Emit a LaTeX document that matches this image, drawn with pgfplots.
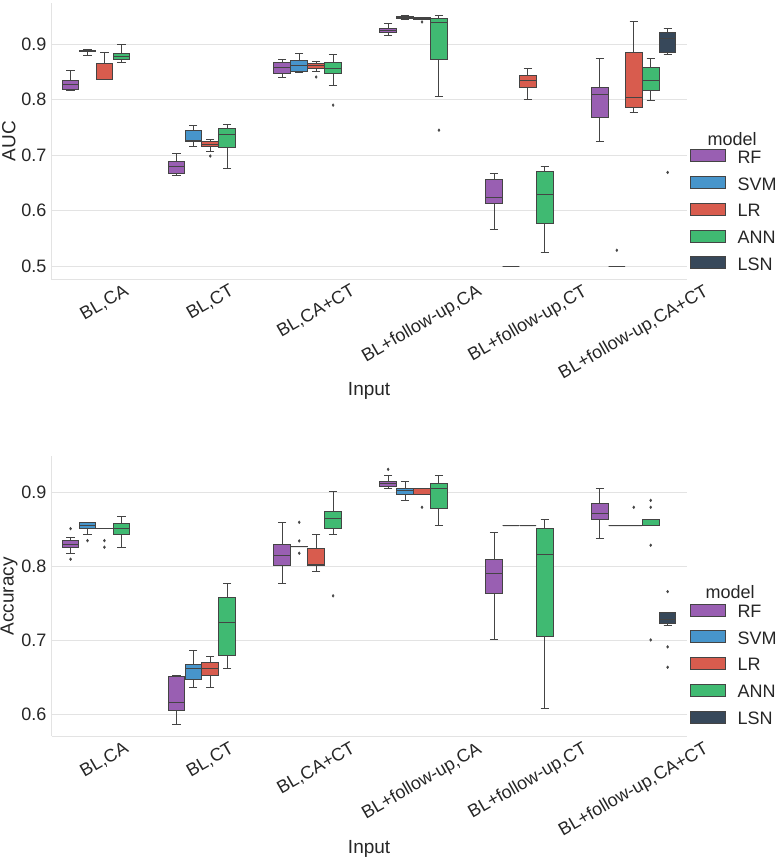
\documentclass[border=0pt]{standalone}
\usepackage{fontspec}
\setmainfont{Liberation Sans}
\usepackage{graphicx}
\usepackage{pgfplots}
\usepgfplotslibrary{statistics}
\pgfplotsset{compat=1.18}

\definecolor{rfc}{HTML}{995FB2}
\definecolor{svmc}{HTML}{4795CB}
\definecolor{lrc}{HTML}{D85C4E}
\definecolor{annc}{HTML}{40BA72}
\definecolor{lsnc}{HTML}{37485A}
\definecolor{edgec}{HTML}{444444}
\definecolor{gridc}{HTML}{E3E3E3}
\definecolor{txtc}{HTML}{262626}

\newcommand{\ticksize}{\fontsize{18}{21}\selectfont}
\newcommand{\labsize}{\fontsize{19}{22}\selectfont}

% one box: style, position, lower whisker, q1, median, q3, upper whisker, outliers
\newcommand{\bx}[8]{\addplot[#1, forget plot, boxplot prepared={draw direction=y, draw position=#2,
  lower whisker=#3, lower quartile=#4, median=#5, upper quartile=#6, upper whisker=#7,
  box extend=0.157, whisker extend=0.078}]
  table[row sep=\\, y index=0] {v\\ #8};}

\pgfplotsset{
  rf/.style={color=edgec, fill=rfc, draw=edgec, line width=1pt,
    mark=diamond*, mark size=1.4pt, mark options={fill=edgec, draw=edgec, line width=0.4pt},
    boxplot/every box/.append style={draw=edgec, line width=1pt},
    boxplot/every whisker/.append style={draw=edgec, line width=1pt},
    boxplot/every median/.append style={draw=edgec, line width=1pt}},
  svm/.style={rf, fill=svmc},
  lr/.style={rf, fill=lrc},
  ann/.style={rf, fill=annc},
  lsn/.style={rf, fill=lsnc},
  flat/.style={rf, fill=edgec},
  panel/.style={
    scale only axis, width=635.2pt, clip=false,
    xmin=-0.5, xmax=5.5,
    xtick={0,1,2,3,4,5},
    xticklabels={{\rotatebox{30}{BL,CA}},{\rotatebox{30}{BL,CT}},{\rotatebox{30}{BL,CA+CT}},
      {\rotatebox{30}{BL+follow-up,CA}},{\rotatebox{30}{BL+follow-up,CT}},{\rotatebox{30}{BL+follow-up,CA+CT}}},
    xticklabel style={anchor=north, inner sep=0pt, yshift=-4pt, font=\ticksize, text=txtc},
    yticklabel style={anchor=east, inner sep=0pt, xshift=-5pt, font=\ticksize, text=txtc,
      /pgf/number format/fixed, /pgf/number format/fixed zerofill,
      /pgf/number format/precision=1, /pgf/number format/assume math mode=true},
    major tick length=0pt,
    axis lines*=left,
    axis line style={draw=gridc, line width=0.9pt, -},
    ymajorgrids, grid style={gridc, line width=0.9pt},
    xlabel={Input},
    every axis x label/.style={at={(axis description cs:0.5,0)}, anchor=center, yshift=-112pt, font=\labsize, text=txtc},
    every axis y label/.style={at={(axis description cs:-0.067,0.5)}, rotate=90, anchor=center, font=\labsize, text=txtc},
    legend style={draw=none, fill=none, anchor=south west, font=\ticksize, text=txtc,
      legend cell align=left, row sep=8.8pt, /tikz/every odd column/.style={column sep=10pt}},
    legend image code/.code={\draw[#1, line width=0.6pt] (0pt,-4pt) rectangle (35pt,8pt);},
  }
}

\begin{document}
\begin{tikzpicture}
\useasboundingbox (0,0) rectangle (777pt,862pt);

% ---------- AUC ----------
\begin{axis}[panel, at={(51.5pt,582.7pt)}, anchor=south west,
  height=276.3pt, ymin=0.4768, ymax=0.9737, ytick={0.5,0.6,0.7,0.8,0.9},
  ylabel={AUC},
  legend style={at={(axis description cs:1.0,0.012)}}]
\bx{rf}{-0.32}{0.8167}{0.8185}{0.8275}{0.835}{0.853}{}
\bx{svm}{-0.16}{0.880}{0.886}{0.888}{0.889}{0.8905}{}
\bx{lr}{0}{0.837}{0.837}{0.837}{0.865}{0.885}{}
\bx{ann}{0.16}{0.866}{0.8725}{0.877}{0.883}{0.8995}{}
\bx{rf}{0.68}{0.664}{0.6675}{0.679}{0.689}{0.703}{}
\bx{svm}{0.84}{0.715}{0.724}{0.726}{0.744}{0.753}{}
\bx{lr}{1}{0.706}{0.7165}{0.720}{0.7245}{0.729}{0.6985\\}
\bx{ann}{1.16}{0.676}{0.713}{0.737}{0.748}{0.7556}{}
\bx{rf}{1.68}{0.840}{0.847}{0.858}{0.867}{0.8725}{}
\bx{svm}{1.84}{0.848}{0.851}{0.8605}{0.870}{0.883}{}
\bx{lr}{2}{0.8496}{0.8556}{0.861}{0.8653}{0.868}{0.8406\\}
\bx{ann}{2.16}{0.8257}{0.847}{0.856}{0.866}{0.8815}{0.790\\}
\bx{rf}{2.68}{0.9157}{0.9198}{0.924}{0.928}{0.9365}{}
\bx{svm}{2.84}{0.944}{0.945}{0.948}{0.9495}{0.9505}{}
\bx{lr}{3}{0.9437}{0.9437}{0.946}{0.9473}{0.9473}{0.9396\\}
\bx{ann}{3.16}{0.806}{0.8712}{0.939}{0.9455}{0.952}{0.745\\}
\bx{rf}{3.68}{0.5655}{0.6135}{0.6243}{0.6567}{0.6674}{}
\bx{flat}{3.84}{0.5}{0.5}{0.5}{0.5}{0.5}{}
\bx{lr}{4}{0.7993}{0.8214}{0.834}{0.8437}{0.855}{}
\bx{ann}{4.16}{0.5254}{0.578}{0.629}{0.671}{0.679}{}
\bx{rf}{4.68}{0.725}{0.7669}{0.8088}{0.8214}{0.8743}{}
\bx{flat}{4.84}{0.5}{0.5}{0.5}{0.5}{0.5}{0.529\\}
\bx{lr}{5}{0.7759}{0.7854}{0.8041}{0.885}{0.9408}{}
\bx{ann}{5.16}{0.7975}{0.816}{0.834}{0.8574}{0.8736}{}
\bx{lsn}{5.32}{0.8802}{0.8844}{0.909}{0.9198}{0.9276}{0.669\\}
\addlegendimage{fill=rfc, draw=edgec}\addlegendentry{RF}
\addlegendimage{fill=svmc, draw=edgec}\addlegendentry{SVM}
\addlegendimage{fill=lrc, draw=edgec}\addlegendentry{LR}
\addlegendimage{fill=annc, draw=edgec}\addlegendentry{ANN}
\addlegendimage{fill=lsnc, draw=edgec}\addlegendentry{LSN}
\node[font=\ticksize, text=txtc] at (axis description cs:1.0717,0.508) {model};
\end{axis}

% ---------- Accuracy ----------
\begin{axis}[panel, at={(51.5pt,125.5pt)}, anchor=south west,
  height=280.5pt, ymin=0.5699, ymax=0.949, ytick={0.6,0.7,0.8,0.9},
  ylabel={Accuracy},
  legend style={at={(axis description cs:1.0,0.023)}}]
\bx{rf}{-0.32}{0.8176}{0.8257}{0.830}{0.8346}{0.8387}{0.8508\\ 0.8095\\}
\bx{svm}{-0.16}{0.8427}{0.8514}{0.8554}{0.859}{0.859}{0.8346\\}
\bx{flat}{0}{0.8514}{0.8514}{0.8514}{0.8514}{0.8514}{0.8346\\ 0.8257\\}
\bx{ann}{0.16}{0.826}{0.8423}{0.8514}{0.8572}{0.867}{}
\bx{rf}{0.68}{0.586}{0.6054}{0.6157}{0.6508}{0.6527}{}
\bx{svm}{0.84}{0.6365}{0.6468}{0.6622}{0.6676}{0.6865}{}
\bx{lr}{1}{0.6365}{0.6527}{0.6616}{0.6693}{0.6774}{}
\bx{ann}{1.16}{0.6612}{0.6797}{0.7234}{0.7581}{0.777}{}
\bx{rf}{1.68}{0.7765}{0.8014}{0.8139}{0.830}{0.859}{}
\bx{flat}{1.84}{0.8265}{0.8265}{0.8265}{0.8265}{0.8265}{0.8594\\ 0.8342\\ 0.8176\\}
\bx{lr}{2}{0.7932}{0.8014}{0.8030}{0.8243}{0.8427}{}
\bx{ann}{2.16}{0.8427}{0.8514}{0.864}{0.8738}{0.9008}{0.760\\}
\bx{rf}{2.68}{0.9054}{0.9081}{0.9112}{0.9143}{0.923}{0.931\\}
\bx{svm}{2.84}{0.889}{0.8973}{0.9027}{0.9054}{0.9143}{}
\bx{lr}{3}{0.8973}{0.8973}{0.9054}{0.9054}{0.9054}{0.8797\\}
\bx{ann}{3.16}{0.8545}{0.8778}{0.9054}{0.9122}{0.923}{}
\bx{rf}{3.68}{0.7004}{0.7626}{0.7905}{0.8095}{0.846}{}
\bx{flat}{3.84}{0.8545}{0.8545}{0.8545}{0.8545}{0.8545}{}
\bx{flat}{4}{0.8545}{0.8545}{0.8545}{0.8545}{0.8545}{}
\bx{ann}{4.16}{0.6072}{0.7049}{0.8162}{0.8504}{0.863}{}
\bx{rf}{4.68}{0.8378}{0.863}{0.8716}{0.8842}{0.9054}{}
\bx{flat}{4.84}{0.8545}{0.8545}{0.8545}{0.8545}{0.8545}{}
\bx{flat}{5}{0.8545}{0.8545}{0.8545}{0.8545}{0.8545}{0.8797\\}
\bx{ann}{5.16}{0.8545}{0.8545}{0.8545}{0.8635}{0.8635}{0.889\\ 0.8797\\ 0.8284\\ 0.7004\\}
\bx{lsn}{5.32}{0.7193}{0.722}{0.7284}{0.7378}{0.7378}{0.7657\\ 0.691\\ 0.6635\\}
\addlegendimage{fill=rfc, draw=edgec}\addlegendentry{RF}
\addlegendimage{fill=svmc, draw=edgec}\addlegendentry{SVM}
\addlegendimage{fill=lrc, draw=edgec}\addlegendentry{LR}
\addlegendimage{fill=annc, draw=edgec}\addlegendentry{ANN}
\addlegendimage{fill=lsnc, draw=edgec}\addlegendentry{LSN}
\node[font=\ticksize, text=txtc] at (axis description cs:1.0685,0.514) {model};
\end{axis}
\end{tikzpicture}
\end{document}
